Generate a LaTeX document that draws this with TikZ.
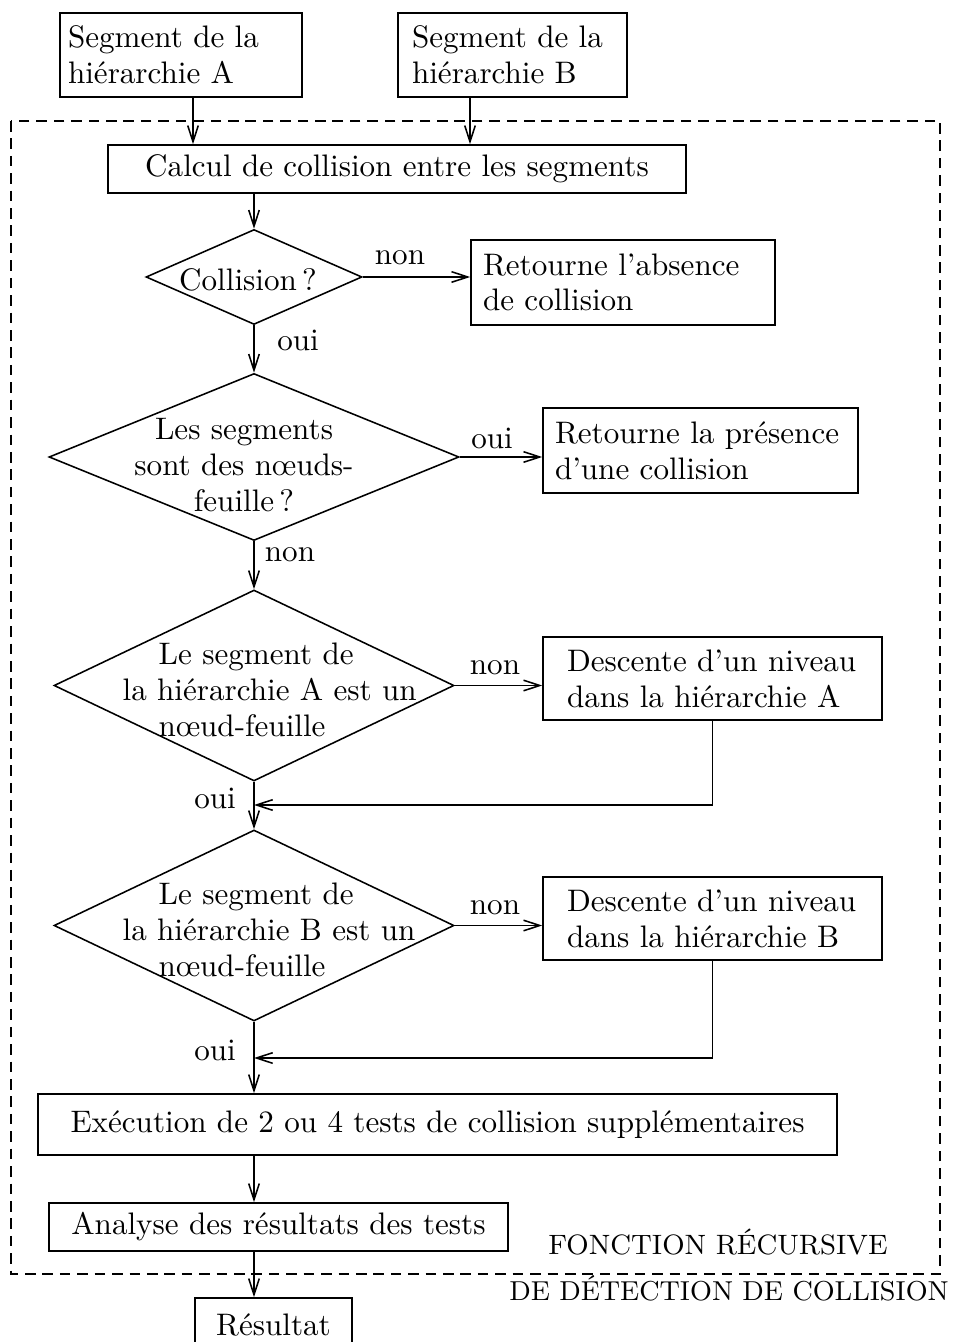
\documentclass[tikz,border=0pt]{standalone}
\usetikzlibrary{arrows.meta,shapes.geometric}
\newcommand{\pxu}{0.3215pt}
\begin{document}
\begin{tikzpicture}[x=0.3215pt,y=-0.3215pt,
  font=\fontsize{10pt}{11.5pt}\selectfont,
  box/.style={draw,line width=0.5pt,inner ysep=0pt,inner xsep=0pt,align=center},
  dia/.style={draw,diamond,line width=0.5pt,inner sep=0pt},
  arr/.style={-{Straight Barb[length=5.2pt,width=3.4pt]},line width=0.5pt},
  frame/.style={line width=0.7pt,dash pattern=on 3.4pt off 2.2pt},
  lbl/.style={inner sep=0pt}]
\useasboundingbox (0,0) rectangle (952,1342);
\clip (0,0) rectangle (952,1342);

% inputs
\node[box,align=left,text width=226*\pxu,inner xsep=8*\pxu,minimum height=84*\pxu] (A) at (181,55) {Segment de la\\hiérarchie A};
\node[box,align=left,text width=201*\pxu,inner xsep=14*\pxu,minimum height=84*\pxu] (B) at (512.5,55) {Segment de la\\hiérarchie B};

% recursive function frame
\draw[frame] (11,121) rectangle (940,1274);

\node[box,minimum width=578*\pxu,minimum height=48*\pxu] (calc) at (397,169) {Calcul de collision entre les segments};

\node[dia,minimum width=216*\pxu,minimum height=95*\pxu] (d1) at (254,277) {};
\node[lbl] (t1) at (248,280) {Collision\,?};
\node[box,align=left,text width=280*\pxu,inner xsep=12*\pxu,minimum height=85*\pxu] (abs) at (623,282.5) {Retourne l'absence\\de collision};

\node[dia,minimum width=410*\pxu,minimum height=167*\pxu] (d2) at (254,457) {};
\node[lbl,align=center] (t2) at (244,465) {Les segments\\sont des nœuds-\\feuille\,?};
\node[box,align=left,text width=291*\pxu,inner xsep=12*\pxu,minimum height=85*\pxu] (pres) at (700.5,450.5) {Retourne la présence\\d'une collision};

\node[dia,minimum width=400*\pxu,minimum height=191*\pxu] (d3) at (254,685.5) {};
\node[lbl,align=left,anchor=west] (t3) at (122,690) {\hspace*{11.6pt}Le segment de\\la hiérarchie A est un\\\hspace*{11.6pt}nœud-feuille};
\node[box,align=left,text width=291*\pxu,inner xsep=24*\pxu,minimum height=83*\pxu] (descA) at (712.5,678.5) {Descente d'un niveau\\dans la hiérarchie A};

\node[dia,minimum width=400*\pxu,minimum height=191*\pxu] (d4) at (254,925.5) {};
\node[lbl,align=left,anchor=west] (t4) at (122,930) {\hspace*{11.6pt}Le segment de\\la hiérarchie B est un\\\hspace*{11.6pt}nœud-feuille};
\node[box,align=left,text width=291*\pxu,inner xsep=24*\pxu,minimum height=83*\pxu] (descB) at (712.5,918.5) {Descente d'un niveau\\dans la hiérarchie B};

\node[box,minimum width=799*\pxu,minimum height=61*\pxu] (exec) at (437.5,1124.5) {Exécution de 2 ou 4 tests de collision supplémentaires};
\node[box,minimum width=459*\pxu,minimum height=48*\pxu] (ana) at (278.5,1227) {Analyse des résultats des tests};

\node[lbl,font=\fontsize{9pt}{11pt}\selectfont] (f1) at (718,1242) {FONCTION RÉCURSIVE};
\node[lbl,font=\fontsize{8.8pt}{11pt}\selectfont] (f2) at (729,1288) {DE DÉTECTION DE COLLISION};

% output
\node[box,minimum width=157*\pxu,minimum height=54*\pxu] (res) at (273.5,1325) {Résultat};

% junction points on the main column
\coordinate (xa) at (193,0);
\coordinate (xb) at (470,0);
\coordinate (col) at (254,0);
\coordinate (j1) at (254,805);
\coordinate (j2) at (254,1058);

% connectors
\draw[arr] (A.south -| xa) -- (calc.north -| xa);
\draw[arr] (B.south -| xb) -- (calc.north -| xb);
\draw[arr] (calc.south -| d1.north) -- (d1.north);
\draw[arr] (d1.east) -- (d1.east -| abs.west);
\draw[arr] (d1.south) -- (d2.north);
\draw[arr] (d2.east) -- (d2.east -| pres.west);
\draw[arr] (d2.south) -- (d3.north);
\draw[arr] (d3.east) -- (d3.east -| descA.west);
\draw[arr] (descA.south) |- (j1);
\draw[arr] (d3.south) -- (d4.north);
\draw[arr] (d4.east) -- (d4.east -| descB.west);
\draw[arr] (descB.south) |- (j2);
\draw[arr] (d4.south) -- (exec.north -| col);
\draw[arr] (exec.south -| col) -- (ana.north -| col);
\draw[arr] (ana.south -| col) -- (res.north -| col);

% branch labels
\node[lbl] (n1) at (400,258) {non};
\node[lbl] (o1) at (298,340) {oui};
\node[lbl] (o2) at (492,438) {oui};
\node[lbl] (n2) at (290,555) {non};
\node[lbl] (n3) at (495,668) {non};
\node[lbl] (o3) at (215,798) {oui};
\node[lbl] (n4) at (495,908) {non};
\node[lbl] (o4) at (215,1050) {oui};
\end{tikzpicture}
\end{document}
